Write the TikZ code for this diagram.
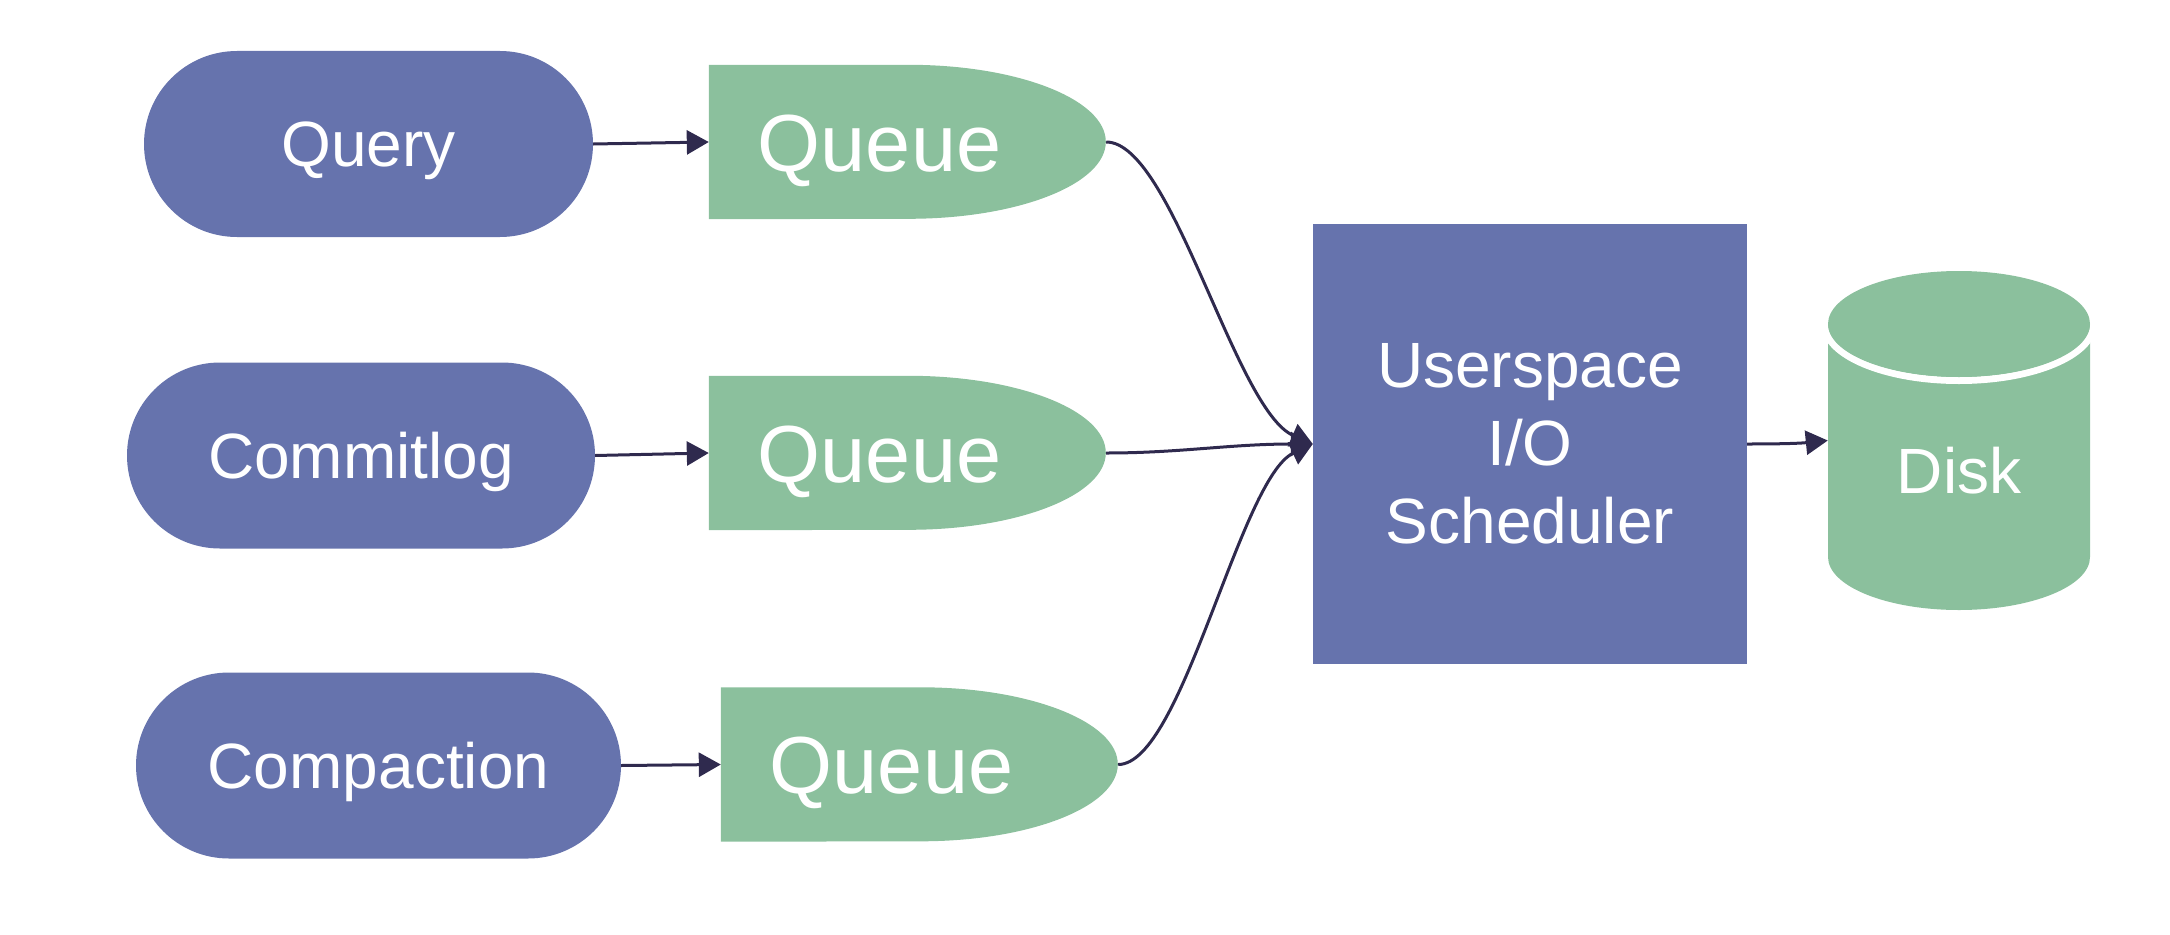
\documentclass[tikz,border=0pt]{standalone}
\usepackage{fontspec}
\setmainfont{Liberation Sans}
\usetikzlibrary{arrows.meta,shapes.misc}
\definecolor{nodeblue}{HTML}{6673AD}
\definecolor{qgreen}{HTML}{8BC09D}
\definecolor{arrowc}{HTML}{2F2A4E}
\begin{document}
\begin{tikzpicture}[x=1pt,y=-1pt,
  src/.style={rounded rectangle, fill=nodeblue, text=white, inner sep=0pt,
    minimum height=186pt, font=\fontsize{64}{78}\selectfont,
    text height=45.8pt, text depth=0pt},
  qbox/.style={rectangle, draw=none, inner sep=0pt, minimum width=397pt, minimum height=154pt},
  qlbl/.style={text=white, inner sep=0pt, font=\fontsize{81}{90}\selectfont,
    text height=58pt, text depth=0pt},
  schedbox/.style={rectangle, fill=nodeblue, text=white, inner sep=0pt,
    minimum width=434pt, minimum height=440pt, align=center,
    font=\fontsize{64}{78}\selectfont},
  diskbox/.style={rectangle, draw=none, inner sep=0pt, minimum width=262pt, minimum height=339pt},
  disklbl/.style={text=white, inner sep=0pt, font=\fontsize{64}{78}\selectfont,
    text height=45.8pt, text depth=0pt},
  conn/.style={draw=arrowc, line width=3pt, -{Triangle[length=22pt,width=24pt]}}
]
\useasboundingbox (0,0) rectangle (2170,934);

% sources
\node[src, minimum width=449pt] (query) at (368.5,144) {Query};
\node[src, minimum width=468pt] (commit) at (361,455.5) {Commitlog};
\node[src, minimum width=485pt] (compact) at (378.5,765.5) {Compaction};

% queues
\node[qbox] (q1) at (907.5,142) {};
\node[qbox] (q2) at (907.5,453) {};
\node[qbox] (q3) at (919.5,764.5) {};
\foreach \q in {q1,q2,q3}{
  \fill[qgreen] (\q.north west) -- ++(200,0)
    arc[start angle=90,end angle=-90,x radius=197pt,y radius=77pt]
    -- (\q.south west) -- cycle;
}
\node[qlbl] (q1t) at ([xshift=-28pt]q1.center) {Queue};
\node[qlbl] (q2t) at ([xshift=-28pt]q2.center) {Queue};
\node[qlbl] (q3t) at ([xshift=-28pt]q3.center) {Queue};

% scheduler
\node[schedbox] (sch) at (1530,444) {Userspace\\I/O\\Scheduler};

% disk
\node[diskbox] (disk) at (1959,440.5) {};
\fill[qgreen] (1828,324) -- (1828,557)
  arc[start angle=180,end angle=360,x radius=131pt,y radius=53pt]
  -- (2090,324) -- cycle;
\draw[white,line width=7pt] (1824.5,324)
  arc[start angle=180,end angle=360,x radius=134.5pt,y radius=56.5pt];
\fill[qgreen] (1959,324) ellipse[x radius=131pt,y radius=53pt];
\node[disklbl] (disktext) at (1959,471) {Disk};

% connectors
\draw[conn] (query.east) -- (q1.west);
\draw[conn] (commit.east) -- (q2.west);
\draw[conn] (compact.east) -- (q3.west);
\draw[conn] (q1.east) .. controls +(66,0) and +(-78,-34) .. (sch.west);
\draw[conn] (q2.east) .. controls +(74,0) and +(-83,0) .. (sch.west);
\draw[conn] (q3.east) .. controls +(64,0) and +(-73,34) .. (sch.west);
\draw[conn] (sch.east) .. controls +(30,0) and +(-30,3) .. (disk.west);
\end{tikzpicture}
\end{document}
